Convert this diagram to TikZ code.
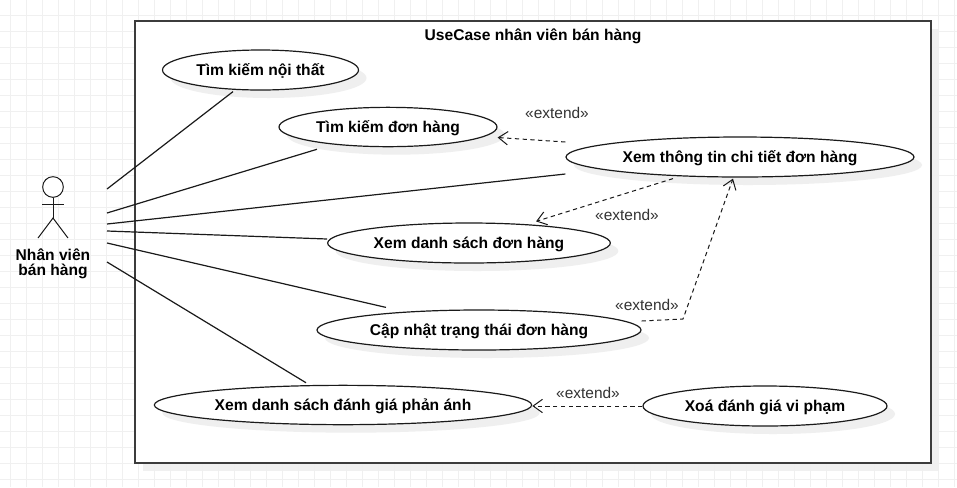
\documentclass[tikz,border=0pt]{standalone}
\usepackage{xcolor}
\usepackage{fontspec}
\setmainfont{Liberation Sans}
\usetikzlibrary{arrows.meta,shapes.geometric,shadows,calc}
\definecolor{gridline}{HTML}{F0F0F0}
\definecolor{shade}{HTML}{EFEFEF}
\definecolor{ink}{HTML}{1A1A1A}
\definecolor{stereo}{HTML}{333333}
\tikzset{
  usecase/.style={ellipse, draw=ink, fill=white, line width=0.9pt, inner sep=0pt, font=\fontsize{11.7}{14}\selectfont\bfseries, text height=10.4pt, text depth=1.8pt, general shadow={shadow xshift=6pt, shadow yshift=-6pt, fill=shade}},
  link/.style={draw=ink, line width=0.9pt},
  ext/.style={draw=ink, line width=0.75pt, dash pattern=on 3.2pt off 2.6pt, -{Straight Barb[length=7pt, width=10pt]}},
  extlabel/.style={font=\fontsize{11.6}{13}\selectfont, text=stereo, inner sep=0pt},
}
\begin{document}
\begin{tikzpicture}[x=0.75pt, y=-0.75pt]
\useasboundingbox (0,0) rectangle (957,487);
\fill[white] (0,0) rectangle (957,487);
\foreach \gx in {0,...,59} \draw[gridline, line width=0.75pt] (10.5+16*\gx,0) -- (10.5+16*\gx,487);
\foreach \gy in {0,...,30} \draw[gridline, line width=0.75pt] (0,15.5+16*\gy) -- (957,15.5+16*\gy);
\node[draw=ink!85, fill=white, line width=1.1pt, inner sep=0pt, minimum width=597pt, minimum height=331.5pt, general shadow={shadow xshift=6pt, shadow yshift=-6pt, fill=shade, opacity=0.9}] (boundary) at (533,242) {};
\node[inner sep=0pt, font=\fontsize{11.7}{14}\selectfont\bfseries, text height=8.6pt, text depth=2.6pt] (title) at (533,36) {UseCase nhân viên bán hàng};
\node[usecase, minimum width=147pt, minimum height=30pt] (furniture) at (260.5,70) {Tìm kiếm nội thất};
\node[usecase, minimum width=163.5pt, minimum height=29.5pt] (search) at (388,127) {Tìm kiếm đơn hàng};
\node[usecase, minimum width=261pt, minimum height=30pt] (detail) at (740,157) {Xem thông tin chi tiết đơn hàng};
\node[usecase, minimum width=212pt, minimum height=30pt] (orders) at (469,243) {Xem danh sách đơn hàng};
\node[usecase, minimum width=243pt, minimum height=30pt] (status) at (479,330) {Cập nhật trạng thái đơn hàng};
\node[usecase, minimum width=283pt, minimum height=29.5pt] (reviews) at (343,405) {Xem danh sách đánh giá phản ánh};
\node[usecase, minimum width=183pt, minimum height=30pt] (remove) at (765,406) {Xoá đánh giá vi phạm};
\node[draw=ink, circle, fill=white, line width=0.75pt, inner sep=0pt, minimum size=15.5pt] (head) at (53,187) {};
\coordinate (hip) at (53,218);
\coordinate (armleft) at (42,204);
\coordinate (armright) at (64,204);
\coordinate (footleft) at (38,238);
\coordinate (footright) at (68,238);
\draw[draw=ink, line width=0.75pt] (head) -- (hip);
\draw[draw=ink, line width=0.75pt] (armleft) -- (armright);
\draw[draw=ink, line width=0.75pt] (footleft) -- (hip) -- (footright);
\node[align=center, inner sep=0pt, font=\fontsize{11.7}{11.25}\selectfont\bfseries] (actor) at (53,264) {Nhân viên\\bán hàng};
\coordinate (portA) at (107,189);
\coordinate (portB) at (107,213);
\coordinate (portC) at (107,224);
\coordinate (portD) at (107,231);
\coordinate (portE) at (107,243);
\coordinate (portF) at (107,262);
\draw[link] (portA) -- ([shift={(-27.5,1)}]furniture.south);
\draw[link] (portB) -- ([shift={(-71,2)}]search.south);
\draw[link] (portC) -- ([shift={(0,17)}]detail.west);
\draw[link] (portD) -- ([shift={(0,-4)}]orders.west);
\draw[link] (portE) -- ([shift={(-93,-2)}]status.north);
\draw[link] (portF) -- ([shift={(-37,-2)}]reviews.north);
\draw[ext] ([shift={(0,-15)}]detail.west) -- ([shift={(0,10.5)}]search.east);
\draw[ext] ([shift={(-67,1)}]detail.south) -- ([shift={(67,-1)}]orders.north);
\coordinate (bend) at (683,319);
\draw[ext] ([shift={(0,-9)}]status.east) -- (bend) -- ([shift={(-7,1)}]detail.south);
\draw[ext] (remove.west) -- ([shift={(0,1)}]reviews.east);
\node[extlabel] (extA) at (557,113) {«extend»};
\node[extlabel] (extB) at (627,215) {«extend»};
\node[extlabel] (extC) at (647,305) {«extend»};
\node[extlabel] (extD) at (588,393) {«extend»};
\end{tikzpicture}
\end{document}
